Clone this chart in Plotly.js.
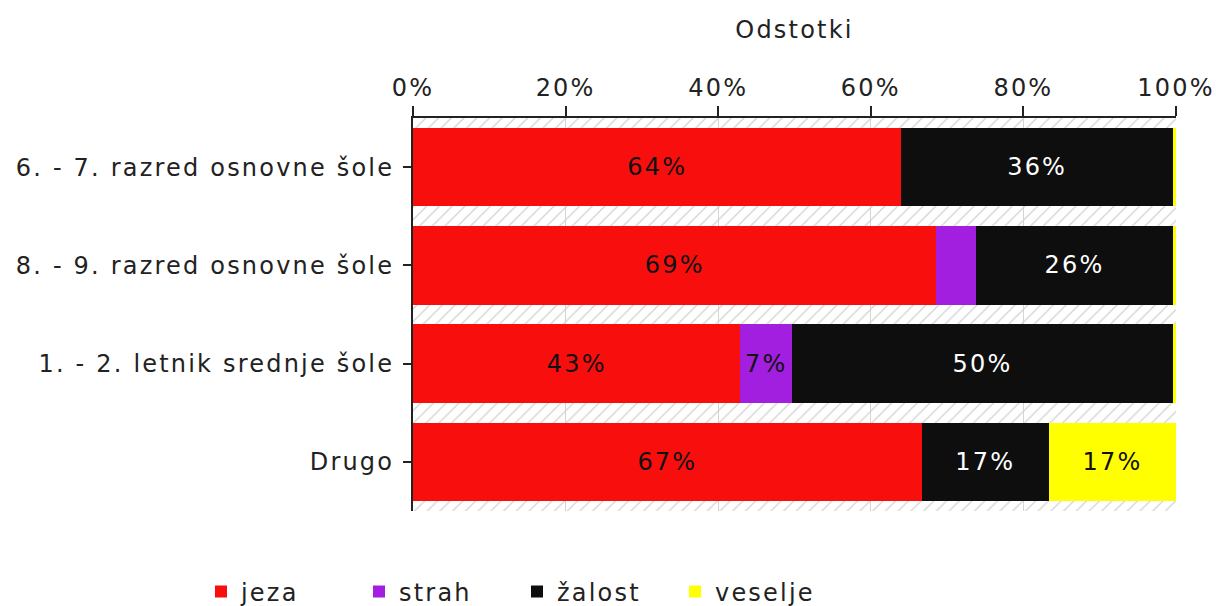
<!DOCTYPE html>
<html>
<head>
<meta charset="utf-8">
<script src="https://cdn.plot.ly/plotly-3.0.1.min.js"></script>
<style>
  html, body { margin: 0; padding: 0; background: #fff; }
  #chart { width: 1216px; height: 606px; }
  svg text { letter-spacing: 2.2px; }
</style>
</head>
<body>
<div id="chart"></div>
<script>
// Categories (top to bottom)
const categories = [
  "6. - 7. razred osnovne šole",
  "8. - 9. razred osnovne šole",
  "1. - 2. letnik srednje šole",
  "Drugo"
];
// Series values in percent
const jeza    = [64.0, 68.6, 42.9, 66.67];
const strah   = [0,    5.2,  6.8,  0];
const zalost  = [35.6, 25.8, 49.9, 16.67];
const veselje = [0.4,  0.4,  0.4,  16.67];

const seriesNames = ["jeza", "strah", "žalost", "veselje"];
const seriesVals = [jeza, strah, zalost, veselje];
const seriesColors = ["#F90E0E", "#A21FE0", "#0E0E0E", "#FFFF00"];
const labelColors = ["#111111", "#111111", "#FFFFFF", "#111111"];
const axisTicks = [0, 20, 40, 60, 80, 100];

const FONT = "DejaVu Sans, Verdana, sans-serif";
const FS = 24;

const traces = [];

// Hatched background band for each category (drawn behind the data bars)
traces.push({
  type: "bar",
  orientation: "h",
  y: categories,
  x: categories.map(() => 100),
  width: 1,
  xaxis: "x",
  yaxis: "y",
  marker: {
    color: "rgba(0,0,0,0)",
    line: { width: 0 },
    pattern: { shape: "/", fgcolor: "#d2d2d2", bgcolor: "rgba(0,0,0,0)", size: 9, solidity: 0.14 }
  },
  hoverinfo: "skip",
  showlegend: false
});

seriesVals.forEach((vals, i) => {
  traces.push({
    type: "bar",
    orientation: "h",
    name: seriesNames[i],
    y: categories,
    x: vals,
    xaxis: "x2",
    yaxis: "y2",
    width: 0.8,
    marker: { color: seriesColors[i], line: { width: 0 } },
    text: vals.map(v => (v >= 6 ? Math.round(v) + "%" : "")),
    textposition: "inside",
    insidetextanchor: "middle",
    textangle: 0,
    constraintext: "none",
    textfont: { family: FONT, size: FS, color: labelColors[i] },
    hoverinfo: "x+name"
  });
});

const layout = {
  width: 1216,
  height: 606,
  margin: { l: 413, r: 40, t: 118, b: 95, autoexpand: false },
  paper_bgcolor: "#ffffff",
  plot_bgcolor: "#ffffff",
  barmode: "stack",
  bargap: 0.2,
  font: { family: FONT, size: FS, color: "#222222" },
  title: {
    text: "Odstotki",
    x: 0.5, xref: "paper", xanchor: "center",
    y: 1 - 30 / 606, yref: "container", yanchor: "middle",
    font: { family: FONT, size: FS, color: "#222222" }
  },
  xaxis: {
    range: [0, 100],
    showgrid: true,
    gridcolor: "#d4d4d4",
    gridwidth: 1,
    tickvals: axisTicks,
    showticklabels: false,
    ticks: "",
    zeroline: false,
    showline: false,
    fixedrange: true
  },
  xaxis2: {
    overlaying: "x",
    anchor: "y",
    side: "top",
    range: [0, 100],
    tickvals: axisTicks,
    ticktext: axisTicks.map(t => t + "%"),
    ticks: "outside",
    ticklen: 10,
    tickwidth: 2,
    tickcolor: "#222222",
    showline: true,
    linecolor: "#222222",
    linewidth: 2,
    showgrid: false,
    zeroline: false,
    tickfont: { family: FONT, size: FS, color: "#222222" },
    fixedrange: true
  },
  yaxis: {
    type: "category",
    range: [3.5, -0.5],
    ticks: "outside",
    ticklen: 8,
    tickwidth: 2,
    tickcolor: "#222222",
    showline: true,
    linecolor: "#222222",
    linewidth: 2,
    showgrid: false,
    zeroline: false,
    ticklabelstandoff: 4,
    tickfont: { family: FONT, size: FS, color: "#222222" },
    fixedrange: true
  },
  yaxis2: {
    type: "category",
    overlaying: "y",
    anchor: "x",
    range: [3.5, -0.5],
    showticklabels: false,
    ticks: "",
    showline: false,
    showgrid: false,
    zeroline: false,
    fixedrange: true
  },
  legend: {
    orientation: "h",
    x: 201 / 1216, xanchor: "left", xref: "container",
    y: 1 - 592 / 606, yanchor: "middle", yref: "container",
    entrywidth: 113,
    entrywidthmode: "pixels",
    font: { family: FONT, size: FS, color: "#222222" },
    traceorder: "normal"
  },
  showlegend: true
};

Plotly.newPlot("chart", traces, layout, { displayModeBar: false, staticPlot: true });
</script>
</body>
</html>
